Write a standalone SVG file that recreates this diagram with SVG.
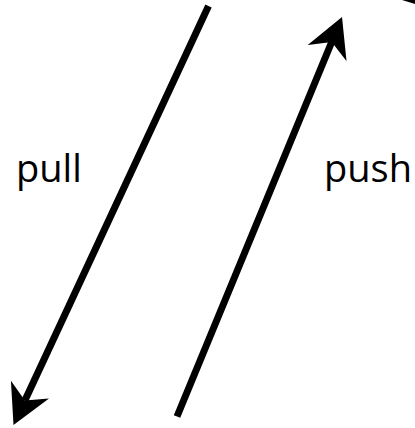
<svg xmlns="http://www.w3.org/2000/svg" width="415" height="428" viewBox="0 0 415 428">
  <style>
    .lbl { font-family: "Open Sans", "Liberation Sans", sans-serif; font-size: 38px; fill: #000; }
    .conn { stroke: #000; stroke-width: 7; fill: none; stroke-linecap: butt; }
  </style>
  <defs>
    <marker id="stealth" markerUnits="userSpaceOnUse" viewBox="0 0 40 42" markerWidth="40" markerHeight="42" refX="12" refY="21" orient="auto">
      <path d="M39,21 L0,0 L12,21 L0,42 Z" fill="#000"/>
    </marker>
  </defs>
  <rect width="415" height="428" fill="#fff"/>
  <g id="connectors">
    <line id="pull-arrow" class="conn" x1="208.5" y1="6" x2="24.9" y2="400.5" marker-end="url(#stealth)"/>
    <line id="push-arrow" class="conn" x1="177" y1="416.5" x2="331.7" y2="42" marker-end="url(#stealth)"/>
    <polygon points="402,0 415,0 415,4" fill="#000"/>
  </g>
  <g id="label-pull">
    <text class="lbl" x="16" y="182">pull</text>
  </g>
  <g id="label-push">
    <text class="lbl" x="324" y="182">push</text>
  </g>
</svg>
